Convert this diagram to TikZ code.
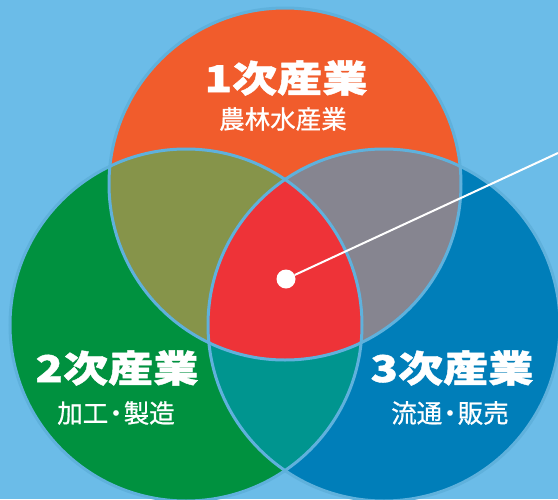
\documentclass[tikz,border=0pt]{standalone}
\usepackage{fontspec}
\usetikzlibrary{positioning}
\newfontfamily\headfont[FakeStretch=1.22,FakeBold=1.2]{Noto Sans CJK JP}
\newfontfamily\subfont[FakeStretch=1.0,FakeBold=0.8]{Noto Sans CJK JP}
\definecolor{bgblue}{HTML}{6BBCE8}
\definecolor{vennline}{HTML}{5FB1DC}
\definecolor{primary}{HTML}{F15C2C}
\definecolor{secondary}{HTML}{00913F}
\definecolor{tertiary}{HTML}{007EB9}
\definecolor{olivemix}{HTML}{86944A}
\definecolor{graymix}{HTML}{868590}
\definecolor{tealmix}{HTML}{00958F}
\definecolor{redmix}{HTML}{EE3338}

\begin{document}
\begin{tikzpicture}[x=1pt,y=-1pt,
    head/.style={text=white,inner sep=0pt,font=\headfont\bfseries\fontsize{37pt}{37pt}\selectfont},
    sub/.style={text=white,inner sep=0pt,font=\subfont\fontsize{25.5pt}{25.5pt}\selectfont},
    ring/.style={draw=vennline,line width=3pt}]
    \fill[bgblue] (0,0) rectangle (558,499);
    \useasboundingbox (0,0) rectangle (558,499);
    \coordinate (c1) at (285,184);
    \coordinate (c2) at (186,325);
    \coordinate (c3) at (384,325);
    % the three sectors
    \fill[primary] (c1) circle[radius=176pt];
    \fill[secondary] (c2) circle[radius=176pt];
    \fill[tertiary] (c3) circle[radius=176pt];
    % overlaps
    \begin{scope}
        \clip (c2) circle[radius=176pt];
        \fill[tealmix] (c3) circle[radius=176pt];
    \end{scope}
    \begin{scope}
        \clip (c1) circle[radius=176pt];
        \fill[olivemix] (c2) circle[radius=176pt];
        \fill[graymix] (c3) circle[radius=176pt];
        \clip (c2) circle[radius=176pt];
        \fill[redmix] (c3) circle[radius=176pt];
    \end{scope}
    \foreach \c in {c1,c2,c3} {
        \draw[ring] (\c) circle[radius=176pt];
    }
    % pointer
    \node[circle,fill=white,minimum size=19pt,inner sep=0pt] (dot) at (286,279) {};
    \coordinate (lineend) at (558,153);
    \draw[white,line width=2pt] (dot) -- (lineend);
    % labels
    \node[head] (t1) at (286,78) {1次産業};
    \node[sub] (s1) at (283,119) {農林水産業};
    \node[head] (t2) at (117,368) {2次産業};
    \node[sub] (s2) at (116,413) {加工\kern-5pt・\kern-5pt製造};
    \node[head] (t3) at (452,368) {3次産業};
    \node[sub] (s3) at (450,413) {流通\kern-5pt・\kern-5pt販売};
\end{tikzpicture}
\end{document}
